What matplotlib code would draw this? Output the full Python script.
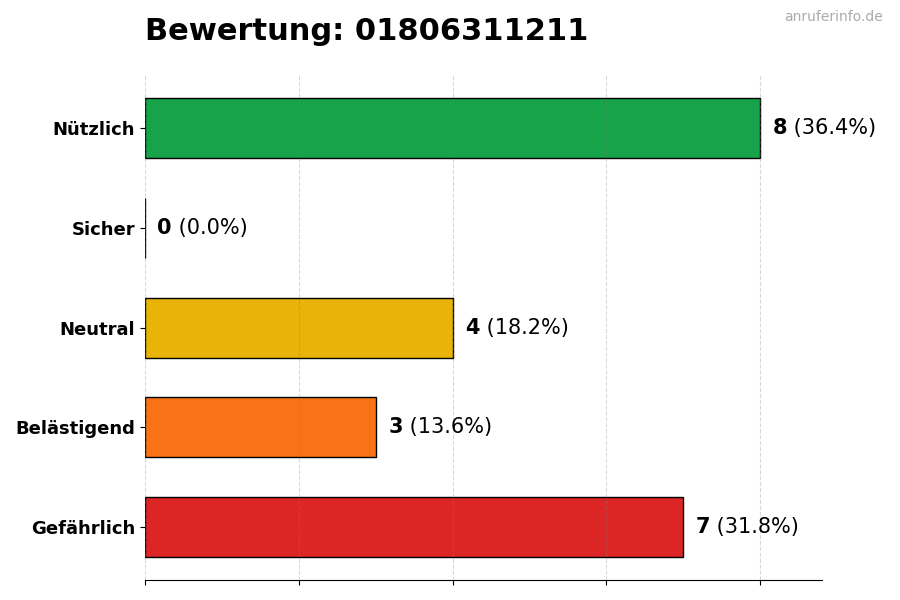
import matplotlib.pyplot as plt
import numpy as np

categories = ['Gefährlich', 'Belästigend', 'Neutral', 'Sicher', 'Nützlich']
counts = [7, 3, 4, 0, 8]
colors = ['#dc2626', '#f97316', '#eab308', '#9ca3af', '#16a34a']
title = 'Bewertung: 01806311211'

total = sum(counts)
y = np.arange(len(categories))

fig = plt.figure(figsize=(9, 6), dpi=100)
ax = fig.add_axes([0.161, 0.033, 0.752, 0.842])

ax.barh(y, counts, height=0.6, color=colors, edgecolor='black', linewidth=1, zorder=2)
ax.set_xlim(0, max(counts) * 1.1)
ax.set_xticks([0, 2, 4, 6, 8])
ax.set_xticklabels([])
ax.set_yticks(y)
ax.set_yticklabels(categories, fontsize=13, fontweight='bold')
# grid sits on top of the bars, but very faint
ax.grid(axis='x', linestyle='--', color='gray', alpha=0.3, linewidth=0.8, zorder=3)
ax.set_axisbelow(False)
for s in ['top', 'right', 'left']:
    ax.spines[s].set_visible(False)

for yi, c in zip(y, counts):
    pct = c / total * 100
    t = ax.annotate(str(c), xy=(c, yi), xytext=(9, 0), textcoords='offset points',
                    va='center', ha='left', fontsize=15, fontweight='bold')
    ax.annotate(' (%.1f%%)' % pct, xycoords=t, xy=(1, 0.5), va='center', ha='left', fontsize=15)

fig.text(0.161, 0.947, title, fontsize=22, fontweight='bold', ha='left', va='center')
fig.text(0.981, 0.971, 'anruferinfo.de', fontsize=10, color='#aaaaaa', ha='right', va='center')

fig.savefig('out.png', dpi=100)
